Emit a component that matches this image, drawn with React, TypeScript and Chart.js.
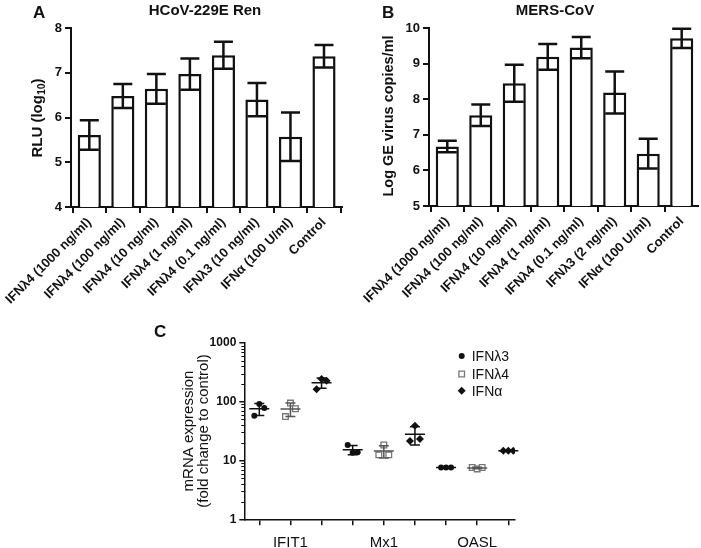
import React, { useEffect, useRef } from "react";
import { Chart, registerables } from "chart.js";

Chart.register(...registerables);

const FONT = "'Liberation Sans', Arial, Helvetica, sans-serif";
const INK = "#111";

// ---------- Panel A data ----------
const labelsA = [
  "IFNλ4 (1000 ng/ml)",
  "IFNλ4 (100 ng/ml)",
  "IFNλ4 (10 ng/ml)",
  "IFNλ4 (1 ng/ml)",
  "IFNλ4 (0.1 ng/ml)",
  "IFNλ3 (10 ng/ml)",
  "IFNα (100 U/ml)",
  "Control",
];
const valuesA = [5.61, 6.48, 6.64, 6.97, 7.39, 6.4, 5.57, 7.37];
const errorsA = [0.33, 0.27, 0.33, 0.35, 0.3, 0.37, 0.54, 0.25];
const ticksA = [4, 5, 6, 7, 8];

// ---------- Panel B data ----------
const labelsB = [
  "IFNλ4 (1000 ng/ml)",
  "IFNλ4 (100 ng/ml)",
  "IFNλ4 (10 ng/ml)",
  "IFNλ4 (1 ng/ml)",
  "IFNλ4 (0.1 ng/ml)",
  "IFNλ3 (2 ng/ml)",
  "IFNα (100 U/ml)",
  "Control",
];
const valuesB = [6.67, 7.55, 8.45, 9.19, 9.45, 8.19, 6.47, 9.71];
const errorsB = [0.16, 0.3, 0.52, 0.36, 0.3, 0.59, 0.42, 0.27];
const ticksB = [5, 6, 7, 8, 9, 10];

// ---------- Panel C data ----------
const genesC = ["IFIT1", "Mx1", "OASL"];
const seriesC = ["IFNλ3", "IFNλ4", "IFNα"];
const ifnL3C = [
  [57.6, 92, 78],
  [18.4, 13.6, 13.8],
  [7.6, 7.6, 7.6],
];
const ifnL4C = [
  [56, 95, 76],
  [12.5, 18.4, 12.5],
  [7.6, 7.2, 7.6],
];
const ifnAC = [
  [164, 243, 227],
  [21.6, 38.9, 23.3],
  [14.6, 14.6, 14.6],
];
const ticksC = [1, 10, 100, 1000];

type TitlePart = { text: string; size: number; dy: number };

type BarPanel = {
  labels: string[];
  values: number[];
  errors: number[];
  yTicks: number[];
  xMin: number;
  xMax: number;
  yAxisWidth: number;
  xAxisHeight: number;
  padTop: number;
  padRight: number;
  letter: string;
  letterX: number;
  title: string;
  titleX: number;
  yTitle: TitlePart[];
  yTitleX: number;
  yTitleY: number;
};

function drawRotatedParts(ctx: CanvasRenderingContext2D, parts: TitlePart[], cx: number, cy: number, weight: string) {
  ctx.save();
  ctx.translate(cx, cy);
  ctx.rotate(-Math.PI / 2);
  ctx.fillStyle = INK;
  ctx.textBaseline = "middle";
  ctx.textAlign = "left";
  let total = 0;
  const widths = parts.map((p) => {
    ctx.font = `${weight} ${p.size}px ${FONT}`;
    const w = ctx.measureText(p.text).width;
    total += w;
    return w;
  });
  let x = -total / 2;
  parts.forEach((p, i) => {
    ctx.font = `${weight} ${p.size}px ${FONT}`;
    ctx.fillText(p.text, x, p.dy);
    x += widths[i];
  });
  ctx.restore();
}

function barDecor(p: BarPanel) {
  return {
    id: "barDecor",
    afterDatasetsDraw(chart: any) {
      const ctx: CanvasRenderingContext2D = chart.ctx;
      const ys = chart.scales.y;
      const meta = chart.getDatasetMeta(0);
      const data = chart.data.datasets[0].data as { x: number; y: number }[];
      ctx.save();
      ctx.strokeStyle = INK;
      ctx.lineWidth = 2.5;
      meta.data.forEach((el: any, i: number) => {
        const v = data[i].y;
        const e = p.errors[i];
        const x = el.x;
        const yt = ys.getPixelForValue(v + e);
        const yb = ys.getPixelForValue(v - e);
        ctx.beginPath();
        ctx.moveTo(x, yt);
        ctx.lineTo(x, yb);
        ctx.moveTo(x - 9.5, yt);
        ctx.lineTo(x + 9.5, yt);
        ctx.moveTo(x - 9.5, yb);
        ctx.lineTo(x + 9.5, yb);
        ctx.stroke();
      });
      ctx.restore();
    },
    afterDraw(chart: any) {
      const ctx: CanvasRenderingContext2D = chart.ctx;
      ctx.save();
      ctx.fillStyle = INK;
      ctx.textBaseline = "alphabetic";
      ctx.textAlign = "left";
      ctx.font = `bold 17px ${FONT}`;
      ctx.fillText(p.letter, p.letterX, 18);
      ctx.textAlign = "center";
      ctx.font = `bold 15px ${FONT}`;
      ctx.fillText(p.title, p.titleX, 15);
      ctx.restore();
      drawRotatedParts(ctx, p.yTitle, p.yTitleX, p.yTitleY, "bold");
    },
  };
}

function buildBarChart(canvas: HTMLCanvasElement, p: BarPanel) {
  return new Chart(canvas, {
    type: "bar",
    data: {
      datasets: [
        {
          data: p.values.map((v, i) => ({ x: i, y: v })),
          backgroundColor: "#fff",
          borderColor: INK,
          borderWidth: 2.5,
          barPercentage: 0.69,
          categoryPercentage: 1,
        } as any,
      ],
    },
    options: {
      animation: false,
      responsive: false,
      events: [],
      layout: { padding: { left: 0, top: p.padTop, right: p.padRight, bottom: 0 } },
      plugins: { legend: { display: false }, tooltip: { enabled: false }, title: { display: false } },
      scales: {
        x: {
          type: "linear",
          min: p.xMin,
          max: p.xMax,
          offset: false,
          grid: { display: true, drawOnChartArea: false, drawTicks: true, tickLength: 6, color: INK, lineWidth: 2 },
          border: { display: true, color: INK, width: 2 },
          ticks: {
            autoSkip: false,
            minRotation: 45,
            maxRotation: 45,
            padding: 2,
            color: INK,
            font: { family: FONT, size: 13, weight: "bold" },
            callback: (v: any) => p.labels[v] ?? "",
          },
          afterBuildTicks: (axis: any) => {
            axis.ticks = p.labels.map((_, i) => ({ value: i }));
          },
          afterFit: (axis: any) => {
            axis.height = p.xAxisHeight;
            axis.paddingLeft = 0;
            axis.paddingRight = 0;
          },
        } as any,
        y: {
          type: "linear",
          min: p.yTicks[0],
          max: p.yTicks[p.yTicks.length - 1],
          grid: { display: true, drawOnChartArea: false, drawTicks: true, tickLength: 6, color: INK, lineWidth: 2 },
          border: { display: true, color: INK, width: 2 },
          ticks: {
            padding: 3,
            color: INK,
            font: { family: FONT, size: 13, weight: "bold" },
            callback: (v: any) => String(v),
          },
          afterBuildTicks: (axis: any) => {
            axis.ticks = p.yTicks.map((v) => ({ value: v }));
          },
          afterFit: (axis: any) => {
            axis.width = p.yAxisWidth;
          },
        } as any,
      },
    },
    plugins: [barDecor(p)],
  });
}

const panelA: BarPanel = {
  labels: labelsA,
  values: valuesA,
  errors: errorsA,
  yTicks: ticksA,
  xMin: -0.546,
  xMax: 7.537,
  yAxisWidth: 71,
  xAxisHeight: 105,
  padTop: 28,
  padRight: 8,
  letter: "A",
  letterX: 33,
  title: "HCoV-229E Ren",
  titleX: 205,
  yTitle: [
    { text: "RLU (log", size: 15, dy: 0 },
    { text: "10", size: 10.5, dy: 4 },
    { text: ")", size: 15, dy: 0 },
  ],
  yTitleX: 37.7,
  yTitleY: 118,
};

const panelB: BarPanel = {
  labels: labelsB,
  values: valuesB,
  errors: errorsB,
  yTicks: ticksB,
  xMin: -0.546,
  xMax: 7.487,
  yAxisWidth: 79,
  xAxisHeight: 106,
  padTop: 28,
  padRight: 3,
  letter: "B",
  letterX: 32,
  title: "MERS-CoV",
  titleX: 205,
  yTitle: [{ text: "Log GE virus copies/ml", size: 14.5, dy: 0 }],
  yTitleX: 39,
  yTitleY: 116,
};

// ---------- Panel C ----------
const jitterC = [-0.16, 0, 0.16];
const stylesC = ["circle", "rect", "rectRot"];
const radiiC = [3, 4, 4];
const fillsC = [INK, "#fff", INK];
const strokesC = [INK, "#777", INK];
const lineColorsC = [INK, "#555", INK];

function drawMarker(ctx: CanvasRenderingContext2D, s: number, x: number, y: number) {
  ctx.save();
  ctx.fillStyle = fillsC[s];
  ctx.strokeStyle = strokesC[s];
  ctx.lineWidth = 1.3;
  ctx.beginPath();
  if (s === 0) {
    ctx.arc(x, y, 3, 0, Math.PI * 2);
    ctx.fill();
  } else if (s === 1) {
    ctx.rect(x - 2.8, y - 2.8, 5.6, 5.6);
    ctx.fill();
    ctx.stroke();
  } else {
    ctx.moveTo(x, y - 4);
    ctx.lineTo(x + 4, y);
    ctx.lineTo(x, y + 4);
    ctx.lineTo(x - 4, y);
    ctx.closePath();
    ctx.fill();
  }
  ctx.restore();
}

const scatterDecor = {
  id: "scatterDecor",
  afterDatasetsDraw(chart: any) {
    const ctx: CanvasRenderingContext2D = chart.ctx;
    const xs = chart.scales.x;
    const ys = chart.scales.y;
    const area = chart.chartArea;
    const all = [ifnL3C, ifnL4C, ifnAC];
    ctx.save();
    ctx.lineWidth = 1.5;
    all.forEach((arr, s) => {
      ctx.strokeStyle = lineColorsC[s];
      arr.forEach((reps, g) => {
        const n = reps.length;
        const mean = reps.reduce((a, b) => a + b, 0) / n;
        const sd = Math.sqrt(reps.reduce((a, b) => a + (b - mean) * (b - mean), 0) / (n - 1));
        const px = xs.getPixelForValue(g * 3 + s);
        const ym = ys.getPixelForValue(mean);
        const yt = ys.getPixelForValue(mean + sd);
        const yb = ys.getPixelForValue(Math.max(mean - sd, 1e-3));
        ctx.beginPath();
        ctx.moveTo(px - 10, ym);
        ctx.lineTo(px + 10, ym);
        ctx.moveTo(px, yt);
        ctx.lineTo(px, yb);
        ctx.moveTo(px - 5, yt);
        ctx.lineTo(px + 5, yt);
        ctx.moveTo(px - 5, yb);
        ctx.lineTo(px + 5, yb);
        ctx.stroke();
      });
    });
    // minor log ticks
    ctx.strokeStyle = INK;
    ctx.lineWidth = 1;
    for (let d = 1; d < 1000; d *= 10) {
      for (let m = 2; m <= 9; m++) {
        const y = Math.round(ys.getPixelForValue(m * d)) + 0.5;
        ctx.beginPath();
        ctx.moveTo(area.left - 3, y);
        ctx.lineTo(area.left, y);
        ctx.stroke();
      }
    }
    ctx.restore();
  },
  afterDraw(chart: any) {
    const ctx: CanvasRenderingContext2D = chart.ctx;
    ctx.save();
    ctx.fillStyle = INK;
    ctx.textAlign = "left";
    ctx.textBaseline = "alphabetic";
    ctx.font = `bold 17px ${FONT}`;
    ctx.fillText("C", 4, 37);
    // legend
    const ly = [56, 74, 90.7];
    seriesC.forEach((name, s) => {
      drawMarker(ctx, s, 311.7, ly[s]);
      ctx.fillStyle = INK;
      ctx.font = `14px ${FONT}`;
      ctx.textBaseline = "middle";
      ctx.fillText(name, 321.7, ly[s] + 1);
    });
    ctx.restore();
    drawRotatedParts(ctx, [{ text: "mRNA expression", size: 15, dy: 0 }], 39, 131, "normal");
    drawRotatedParts(ctx, [{ text: "(fold change to control)", size: 15, dy: 0 }], 54, 131, "normal");
  },
};

function buildScatterChart(canvas: HTMLCanvasElement) {
  const all = [ifnL3C, ifnL4C, ifnAC];
  const datasets = all.map((arr, s) => ({
    label: seriesC[s],
    data: arr.flatMap((reps, g) => reps.map((v, r) => ({ x: g * 3 + s + jitterC[r], y: v }))),
    pointStyle: stylesC[s],
    pointRadius: radiiC[s],
    backgroundColor: fillsC[s],
    borderColor: strokesC[s],
    borderWidth: s === 1 ? 1.3 : 0,
    showLine: false,
  }));
  return new Chart(canvas, {
    type: "scatter",
    data: { datasets: datasets as any },
    options: {
      animation: false,
      responsive: false,
      events: [],
      layout: { padding: { left: 0, top: 43, right: 55, bottom: 0 } },
      plugins: { legend: { display: false }, tooltip: { enabled: false } },
      scales: {
        x: {
          type: "linear",
          min: -0.482,
          max: 8.215,
          grid: { display: true, drawOnChartArea: false, drawTicks: true, tickLength: 6, color: INK, lineWidth: 1.5 },
          border: { display: true, color: INK, width: 1.5 },
          ticks: {
            autoSkip: false,
            maxRotation: 0,
            minRotation: 0,
            padding: 9,
            color: INK,
            font: { family: FONT, size: 15 },
            callback: (v: any) => (Number(v) % 3 === 1 ? genesC[Math.floor(Number(v) / 3)] : ""),
          },
          afterBuildTicks: (axis: any) => {
            const t: { value: number }[] = [];
            genesC.forEach((_, g) => seriesC.forEach((__, s) => t.push({ value: g * 3 + s })));
            axis.ticks = t;
          },
          afterFit: (axis: any) => {
            axis.height = 28.7;
            axis.paddingLeft = 0;
            axis.paddingRight = 0;
          },
        } as any,
        y: {
          type: "logarithmic",
          min: ticksC[0],
          max: ticksC[ticksC.length - 1],
          grid: { display: true, drawOnChartArea: false, drawTicks: true, tickLength: 5, color: INK, lineWidth: 1.5 },
          border: { display: true, color: INK, width: 1.5 },
          ticks: {
            padding: 3,
            color: INK,
            font: { family: FONT, size: 12, weight: "bold" },
            callback: (v: any) => String(v),
          },
          afterBuildTicks: (axis: any) => {
            axis.ticks = ticksC.map((v) => ({ value: v }));
          },
          afterFit: (axis: any) => {
            axis.width = 94.3;
          },
        } as any,
      },
    },
    plugins: [scatterDecor],
  });
}

export default function App() {
  const aRef = useRef<HTMLCanvasElement>(null);
  const bRef = useRef<HTMLCanvasElement>(null);
  const cRef = useRef<HTMLCanvasElement>(null);

  useEffect(() => {
    const charts = [
      buildBarChart(aRef.current!, panelA),
      buildBarChart(bRef.current!, panelB),
      buildScatterChart(cRef.current!),
    ];
    return () => charts.forEach((c) => c.destroy());
  }, []);

  return (
    <div style={{ position: "absolute", left: 0, top: 0, width: 701, height: 548, background: "#fff", overflow: "hidden" }}>
      <canvas ref={aRef} width={350} height={312} style={{ position: "absolute", left: 0, top: 0, width: 350, height: 312 }} />
      <canvas ref={bRef} width={351} height={312} style={{ position: "absolute", left: 350, top: 0, width: 351, height: 312 }} />
      <canvas ref={cRef} width={420} height={248} style={{ position: "absolute", left: 150, top: 300, width: 420, height: 248 }} />
    </div>
  );
}
